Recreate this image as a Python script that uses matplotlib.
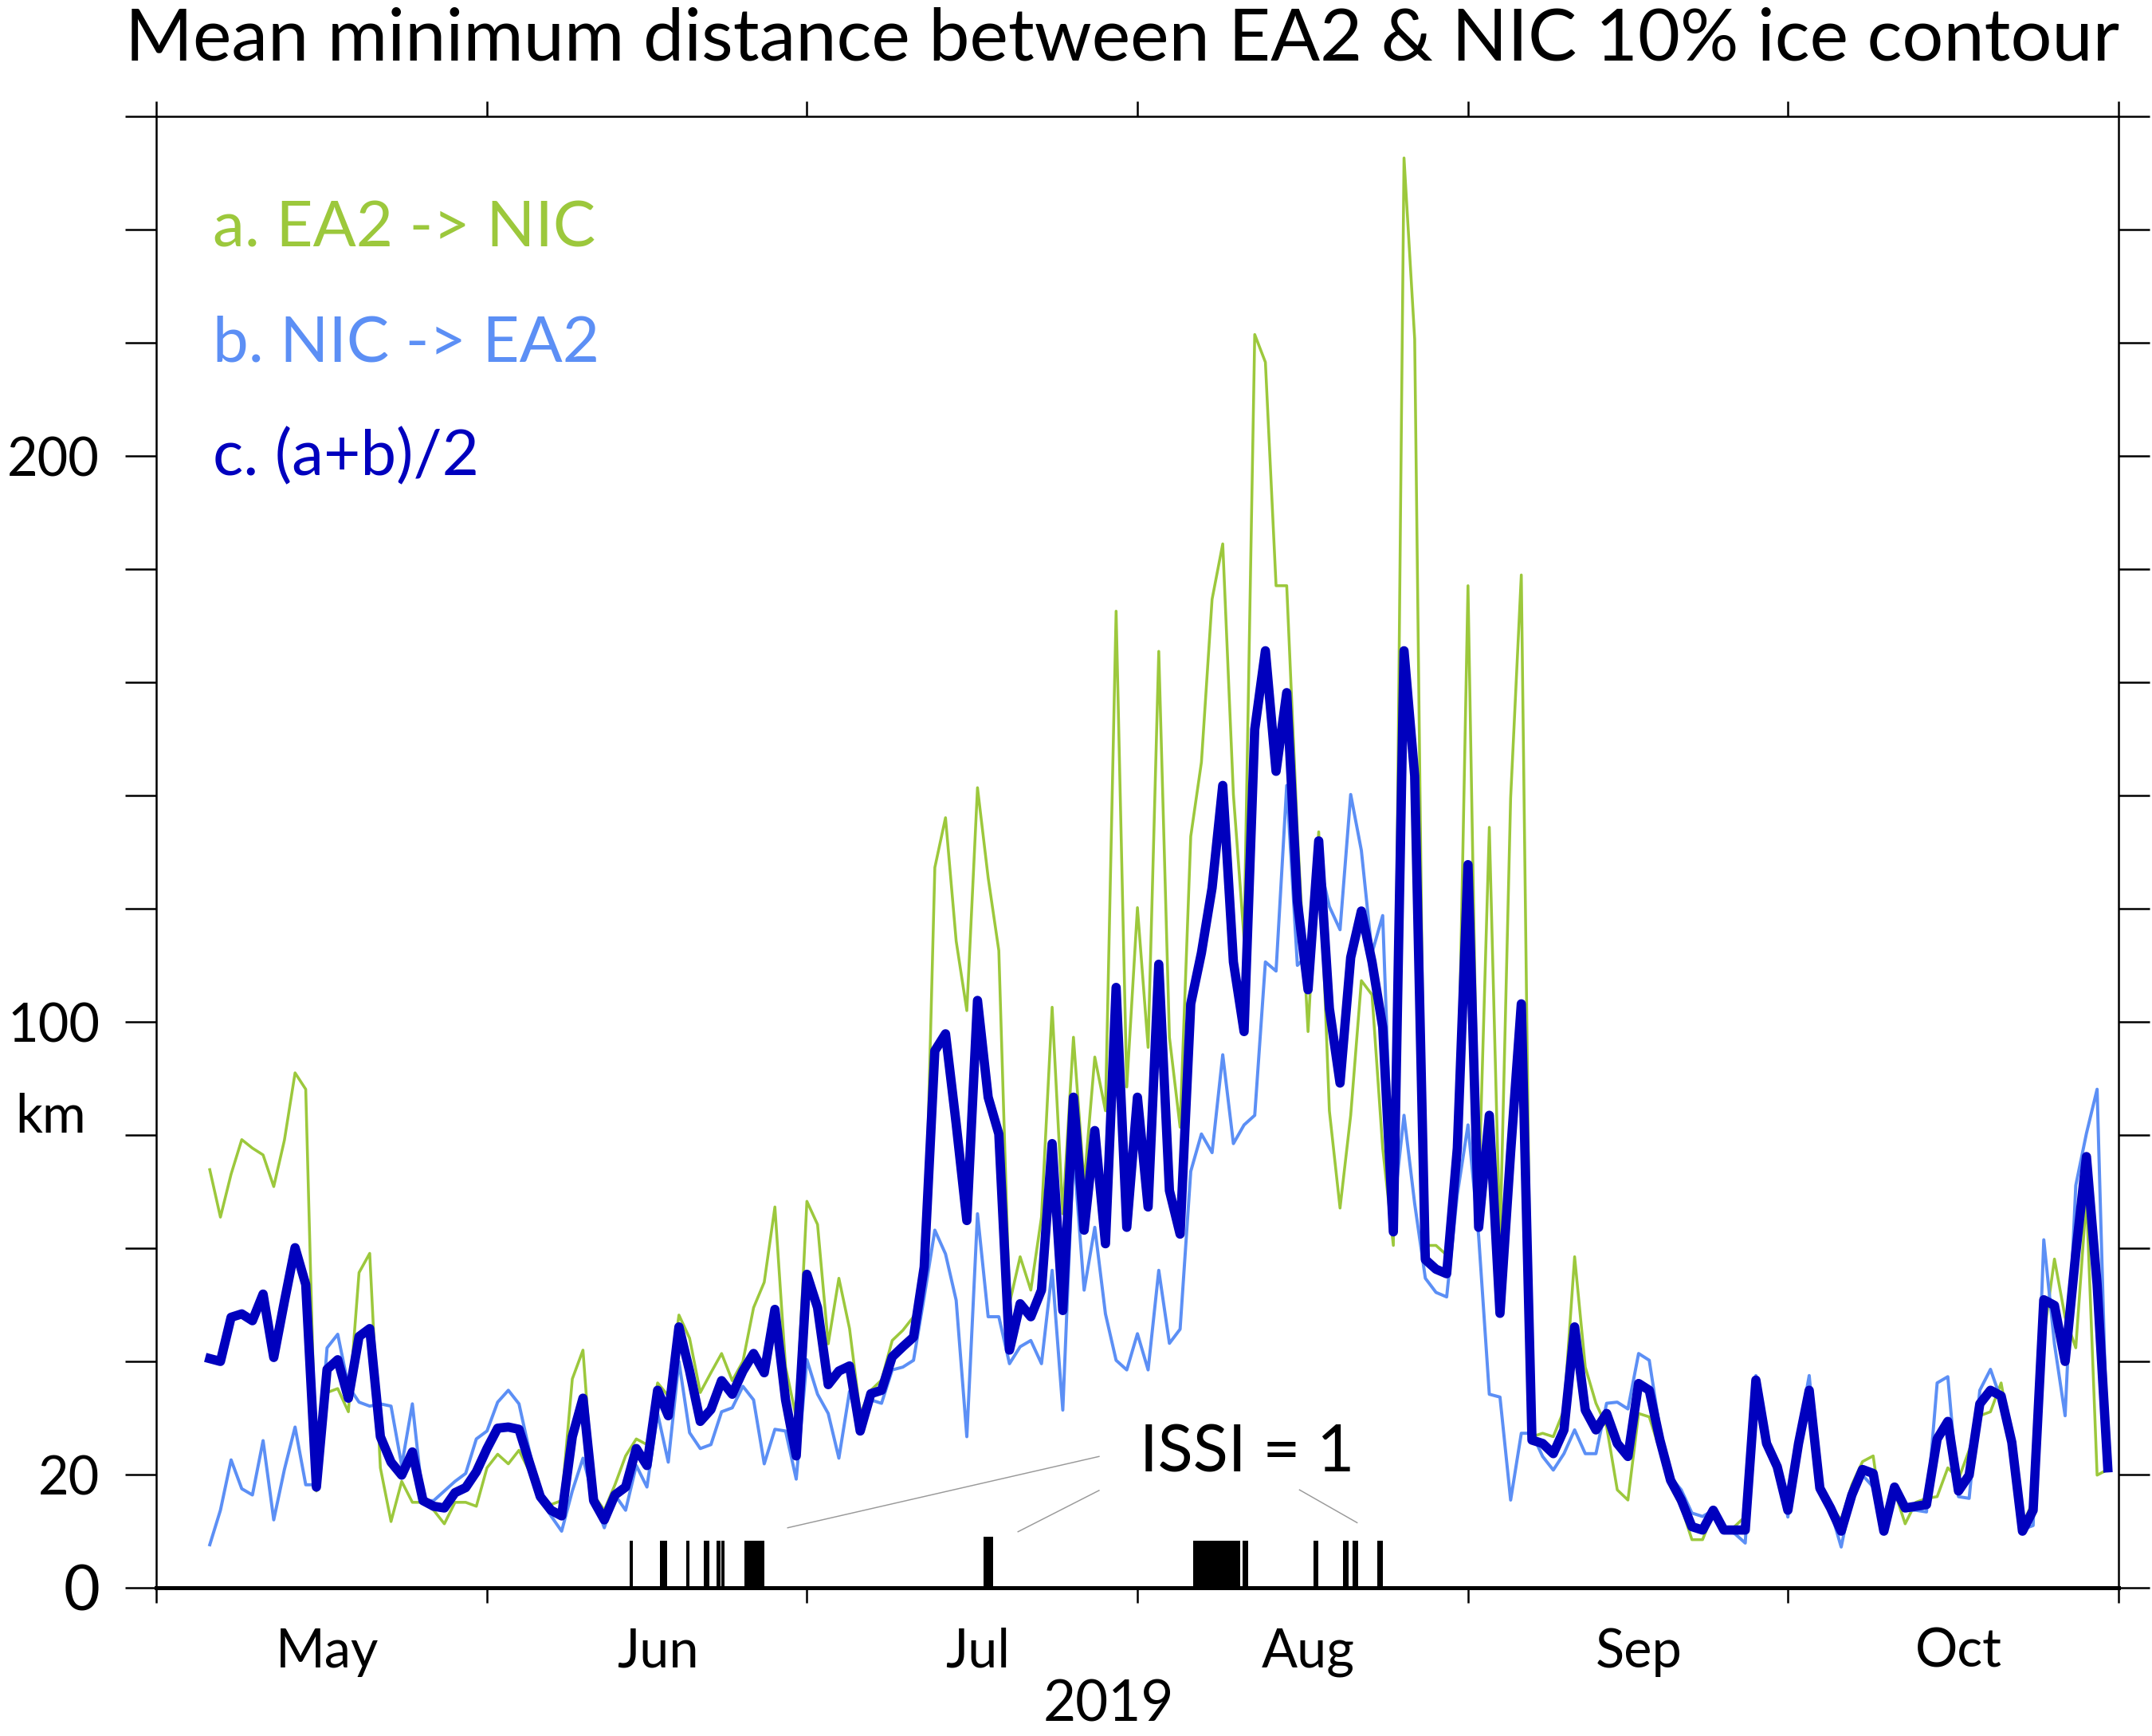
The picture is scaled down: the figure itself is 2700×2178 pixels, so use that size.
import numpy as np
import matplotlib
matplotlib.use('Agg')
import matplotlib.pyplot as plt
import matplotlib.dates as mdates
import matplotlib.transforms as mtransforms
from matplotlib.ticker import NullFormatter

plt.rcParams['font.family'] = ['Lato', 'DejaVu Sans']

# daily values, 6 May 2019 .. 31 Oct 2019 (km)
ea2_to_nic = [
    73.9, 65.5, 73.1, 79.2, 77.7, 76.5, 70.9, 79.1, 91.0, 88.1,
    17.1, 34.5, 35.2, 31.1, 55.7, 59.1, 21.2, 11.7, 18.8, 15.1,
    15.1, 13.7, 11.3, 15.1, 15.1, 14.4, 21.2, 23.6, 21.9, 24.3,
    20.5, 16.1, 14.7, 15.4, 36.9, 42.0, 16.4, 13.7, 18.2, 23.3,
    26.3, 25.3, 36.2, 33.9, 48.2, 44.1, 34.5, 38.0, 41.4, 36.6,
    40.0, 49.5, 54.0, 67.3, 39.0, 30.1, 68.3, 64.2, 43.1, 54.7,
    45.8, 30.8, 34.9, 36.7, 43.7, 45.5, 47.9, 54.3, 127.3, 136.1,
    114.3, 102.0, 141.4, 125.5, 112.6, 50.2, 58.5, 52.6, 65.5, 102.6,
    66.1, 97.3, 71.4, 93.8, 84.3, 172.6, 88.5, 120.2, 95.5, 165.5,
    97.3, 81.4, 132.8, 145.9, 174.7, 184.5, 140.2, 114.7, 221.5, 216.6,
    177.1, 177.1, 133.6, 98.3, 133.6, 84.3, 67.1, 83.5, 107.3, 104.8,
    77.7, 60.5, 252.7, 220.7, 60.5, 60.5, 58.8, 79.4, 177.1, 69.5,
    134.4, 60.8, 139.6, 179.0, 26.7, 27.3, 26.7, 31.4, 58.5, 39.0,
    32.6, 28.5, 17.3, 15.5, 30.8, 30.2, 24.3, 17.9, 14.3, 8.5,
    8.5, 13.2, 10.2, 10.8, 12.6, 35.5, 25.0, 21.0, 14.0, 25.0,
    33.0, 17.5, 14.4, 12.0, 18.2, 22.3, 23.3, 10.0, 17.1, 11.3,
    15.1, 15.8, 16.1, 21.2, 19.2, 24.3, 30.4, 31.1, 36.2, 25.7,
    11.0, 15.4, 44.4, 58.1, 47.8, 42.4, 69.0, 19.9, 20.9,
]

nic_to_ea2 = [
    7.6, 13.7, 22.6, 17.5, 16.4, 26.0, 12.0, 20.9, 28.4, 18.2,
    18.2, 42.4, 44.8, 35.6, 32.8, 32.1, 32.5, 32.1, 21.6, 32.5,
    15.4, 15.4, 17.1, 18.8, 20.2, 26.3, 27.7, 32.8, 34.9, 32.5,
    24.0, 15.8, 12.7, 10.0, 17.1, 22.9, 15.8, 10.6, 16.4, 13.7,
    21.6, 17.8, 30.8, 22.2, 40.0, 27.4, 24.6, 25.3, 31.1, 31.8,
    35.6, 33.2, 21.9, 28.0, 27.7, 19.2, 40.3, 34.2, 30.8, 22.9,
    34.7, 27.9, 33.2, 32.6, 38.5, 39.0, 40.2, 51.4, 63.2, 59.0,
    50.8, 26.7, 66.1, 47.9, 47.9, 39.6, 42.6, 43.7, 39.6, 56.1,
    31.4, 77.3, 52.6, 63.7, 48.4, 40.2, 38.5, 44.9, 38.5, 56.1,
    43.2, 45.7, 73.6, 80.2, 76.9, 94.2, 78.5, 81.8, 83.5, 110.6,
    109.0, 141.8, 110.0, 112.0, 128.7, 120.4, 116.3, 140.2, 130.3, 112.2,
    118.8, 66.2, 83.5, 67.9, 54.7, 52.2, 51.4, 69.5, 81.8, 62.1,
    34.2, 33.7, 15.5, 27.3, 27.3, 23.2, 20.8, 23.7, 27.9, 23.7,
    23.7, 32.6, 32.8, 31.6, 41.4, 40.2, 27.9, 19.6, 17.3, 13.2,
    12.6, 13.7, 10.2, 9.6, 7.9, 37.5, 26.0, 22.0, 12.5, 27.0,
    37.5, 17.8, 13.7, 7.2, 16.4, 19.9, 17.8, 10.0, 16.8, 13.7,
    13.7, 13.4, 36.2, 37.3, 16.1, 15.8, 34.9, 38.6, 33.2, 25.3,
    10.3, 11.0, 61.5, 43.1, 30.4, 71.1, 80.3, 88.1, 21.0,
]

mean_dist = [
    40.5, 40.0, 47.8, 48.4, 47.2, 51.9, 40.7, 50.6, 60.1, 53.6,
    17.8, 38.6, 40.3, 33.5, 44.4, 45.8, 26.7, 22.2, 19.9, 24.0,
    15.4, 14.4, 14.1, 16.8, 17.7, 20.5, 24.6, 28.2, 28.4, 28.0,
    22.0, 16.1, 13.7, 12.7, 26.7, 33.5, 15.4, 12.0, 16.4, 17.8,
    24.6, 21.6, 34.9, 30.4, 46.1, 38.3, 29.4, 31.5, 36.6, 34.2,
    38.3, 41.4, 38.0, 49.2, 33.2, 23.3, 55.4, 49.5, 35.9, 38.3,
    39.2, 27.7, 34.3, 34.9, 40.8, 42.6, 44.3, 56.7, 94.9, 97.9,
    82.0, 64.9, 103.8, 86.7, 80.2, 42.0, 50.2, 47.9, 52.6, 78.5,
    49.0, 86.7, 63.2, 80.8, 60.8, 106.1, 63.7, 86.7, 67.3, 110.2,
    70.2, 62.5, 103.2, 112.2, 123.7, 141.8, 110.6, 98.3, 151.7, 165.6,
    144.3, 158.2, 121.3, 105.7, 132.0, 102.4, 89.2, 111.4, 119.6, 110.6,
    99.1, 62.9, 165.6, 143.5, 58.0, 56.3, 55.5, 77.7, 127.8, 63.7,
    83.5, 48.5, 77.0, 103.2, 26.1, 25.5, 23.7, 27.9, 46.1, 31.4,
    27.9, 30.8, 25.5, 23.2, 36.1, 34.9, 26.1, 19.0, 15.5, 10.8,
    10.2, 13.7, 10.2, 10.2, 10.2, 36.7, 25.5, 21.4, 13.7, 25.5,
    34.9, 17.6, 14.1, 10.0, 16.4, 20.9, 20.2, 10.0, 17.8, 14.1,
    14.4, 14.7, 26.3, 29.4, 17.1, 19.9, 32.5, 34.9, 33.9, 25.7,
    10.0, 13.7, 50.9, 49.9, 40.0, 59.1, 76.2, 53.6, 21.2,
]

first_day = '2019-05-06'
end_day = '2019-11-01'

# periods with ISSI = 1, days after 1 May 2019
issi_start = [44.4, 47.2, 49.7, 51.3, 52.55, 53.0, 55.15, 77.6,
              97.25, 101.85, 108.5, 111.3, 112.15, 114.5]
issi_end = [44.7, 47.9, 50.0, 51.85, 52.9, 53.3, 57.0, 78.45,
            101.6, 102.4, 108.95, 111.8, 112.7, 115.05]
issi_top = [8.3, 8.3, 8.3, 8.3, 8.3, 8.3, 8.3, 9.0,
            8.3, 8.3, 8.3, 8.3, 8.3, 8.3]

y_labels = {0: '0', 20: '20', 100: '100', 200: '200'}

GREEN = '#9cc83c'
LBLUE = '#5c8ff5'
DBLUE = '#0000be'


def main():
    days = np.arange(np.datetime64(first_day), np.datetime64(end_day))
    may1 = mdates.date2num(np.datetime64('2019-05-01'))

    fig = plt.figure(figsize=(9, 7.26), dpi=300)
    ax = fig.add_axes([0.0727, 0.0854, 0.9117, 0.8474])

    ax.plot(days, ea2_to_nic, color=GREEN, lw=0.85)
    ax.plot(days, nic_to_ea2, color=LBLUE, lw=0.95)
    ax.plot(days, mean_dist, color=DBLUE, lw=2.8)

    start = np.array(issi_start)
    ax.bar(may1 + start, issi_top, width=np.array(issi_end) - start,
           align='edge', color='black', lw=0)

    # ISSI label with leader lines
    ax.text(may1 + 92.2, 20.5, 'ISSI = 1', fontsize=19.5, va='baseline')
    for x0, y0, x1, y1 in [(88.4, 23.2, 59.2, 10.6),
                           (88.4, 17.2, 80.8, 9.9),
                           (107.2, 17.3, 112.6, 11.5)]:
        ax.plot([may1 + x0, may1 + x1], [y0, y1], color='#999999', lw=0.35)

    # legend as coloured text
    ax.text(may1 + 5.3, 237.0, 'a. EA2 -> NIC', color=GREEN, fontsize=19.2, va='baseline')
    ax.text(may1 + 5.3, 216.8, 'b. NIC -> EA2', color=LBLUE, fontsize=19.2, va='baseline')
    ax.text(may1 + 5.3, 196.6, 'c. (a+b)/2', color=DBLUE, fontsize=19.2, va='baseline')

    ax.set_xlim(may1, may1 + 184)
    ax.set_ylim(0, 260)

    ax.xaxis.set_major_locator(mdates.MonthLocator())
    ax.xaxis.set_major_formatter(NullFormatter())
    ax.xaxis.set_minor_locator(mdates.MonthLocator(bymonthday=17))
    ax.xaxis.set_minor_formatter(mdates.DateFormatter('%b'))
    ax.tick_params(axis='x', which='major', direction='out', length=4.6,
                   width=0.6, top=True)
    ax.tick_params(axis='x', which='minor', length=0, pad=12, labelsize=16)

    yt = np.arange(0, 261, 20)
    ax.set_yticks(yt)
    ax.set_yticklabels([y_labels.get(int(v), '') for v in yt])
    ax.tick_params(axis='y', direction='out', length=9.4, width=0.6,
                   right=True, labelsize=16, pad=7.7)
    ax.get_yticklabels()[0].set_fontsize(19)

    for s in ax.spines.values():
        s.set_linewidth(0.6)
    ax.spines['bottom'].set_linewidth(1.2)

    trans = mtransforms.blended_transform_factory(ax.transAxes, ax.transData)
    ax.text(-0.0537, 80.5, 'km', transform=trans, ha='center', va='baseline', fontsize=16)

    fig.text(1391 / 2700, 1 - 2160 / 2178, '2019', ha='center', va='baseline', fontsize=17)
    fig.text(1408 / 2700, 1 - 76 / 2178,
             'Mean minimum distance between EA2 & NIC 10% ice contour',
             ha='center', va='baseline', fontsize=22)

    fig.savefig('out.png', dpi=300)


if __name__ == '__main__':
    main()
